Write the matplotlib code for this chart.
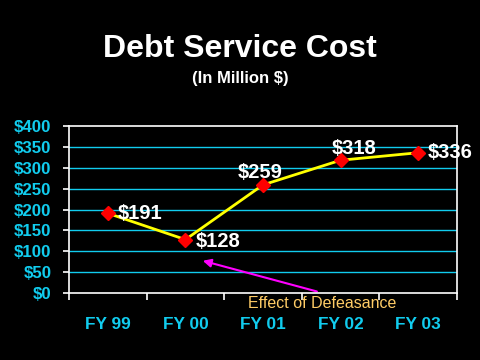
import matplotlib
matplotlib.use('Agg')
import matplotlib.pyplot as plt

years = ['FY 99', 'FY 00', 'FY 01', 'FY 02', 'FY 03']
cost = [191, 128, 259, 318, 336]
cost_labels = ['$191', '$128', '$259', '$318', '$336']
y_ticks = [0, 50, 100, 150, 200, 250, 300, 350, 400]

CYAN = '#11CCEE'

plt.rcParams['font.family'] = ['Liberation Sans', 'DejaVu Sans']

fig = plt.figure(figsize=(4.8, 3.6), dpi=100, facecolor='black')
ax = fig.add_axes([0.1438, 0.186, 0.808, 0.464], facecolor='black')

x = list(range(len(years)))
ax.plot(x, cost, color='#FFFF00', lw=2, zorder=3)
ax.plot(x, cost, ls='none', marker='D', ms=7, color='#FF0000', zorder=4)

# value labels: offsets in points from each marker
offsets = [(7.2, 0), (7.2, -1.4), (-18, 8.6), (-6.5, 8.6), (7.2, 0.5)]
for xi, yi, lab, (dx, dy) in zip(x, cost, cost_labels, offsets):
    ax.annotate(lab, (xi, yi), xytext=(dx, dy), textcoords='offset points',
                color='white', fontsize=14.5, fontweight='bold', ha='left',
                va='center', zorder=5)

ax.set_xlim(-0.5, 4.5)
ax.set_ylim(0, 400)
ax.set_yticks(y_ticks)
ax.set_yticklabels(['$' + str(v) for v in y_ticks])
# boundaries get the tick marks, centres get the labels
ax.set_xticks([-0.5, 0.5, 1.5, 2.5, 3.5, 4.5])
ax.set_xticklabels([])
ax.set_xticks(x, minor=True)
ax.set_xticklabels(years, minor=True)

for yv in y_ticks[1:-1]:
    ax.axhline(yv, color=CYAN, lw=1, zorder=1)

for s in ax.spines.values():
    s.set_color('white')
    s.set_linewidth(1.2)

ax.tick_params(axis='y', colors='white', length=4.5, width=1.2, labelcolor=CYAN,
               labelsize=12.2, pad=8)
ax.tick_params(axis='x', which='major', colors='white', length=5, width=1.2)
ax.tick_params(axis='x', which='minor', length=0, labelcolor=CYAN,
               labelsize=12.4, pad=17)
for lab in ax.get_yticklabels() + ax.get_xticklabels(minor=True):
    lab.set_fontweight('bold')

ax.annotate('', xy=(1.19, 79), xytext=(2.73, 2),
            arrowprops=dict(arrowstyle='-|>', color='#FF00FF', lw=1.5,
                            mutation_scale=12),
            zorder=2, annotation_clip=False)

fig.text(0.671, 0.158, 'Effect of Defeasance', color='#FFCC66', fontsize=11.5,
         ha='center', va='center')

fig.text(0.5, 0.865, 'Debt Service Cost', color='white', fontsize=23,
         fontweight='bold', ha='center', va='center')
fig.text(0.5, 0.783, '(In Million $)', color='white', fontsize=12,
         fontweight='bold', ha='center', va='center')

fig.savefig('out.png', dpi=100, facecolor='black')
